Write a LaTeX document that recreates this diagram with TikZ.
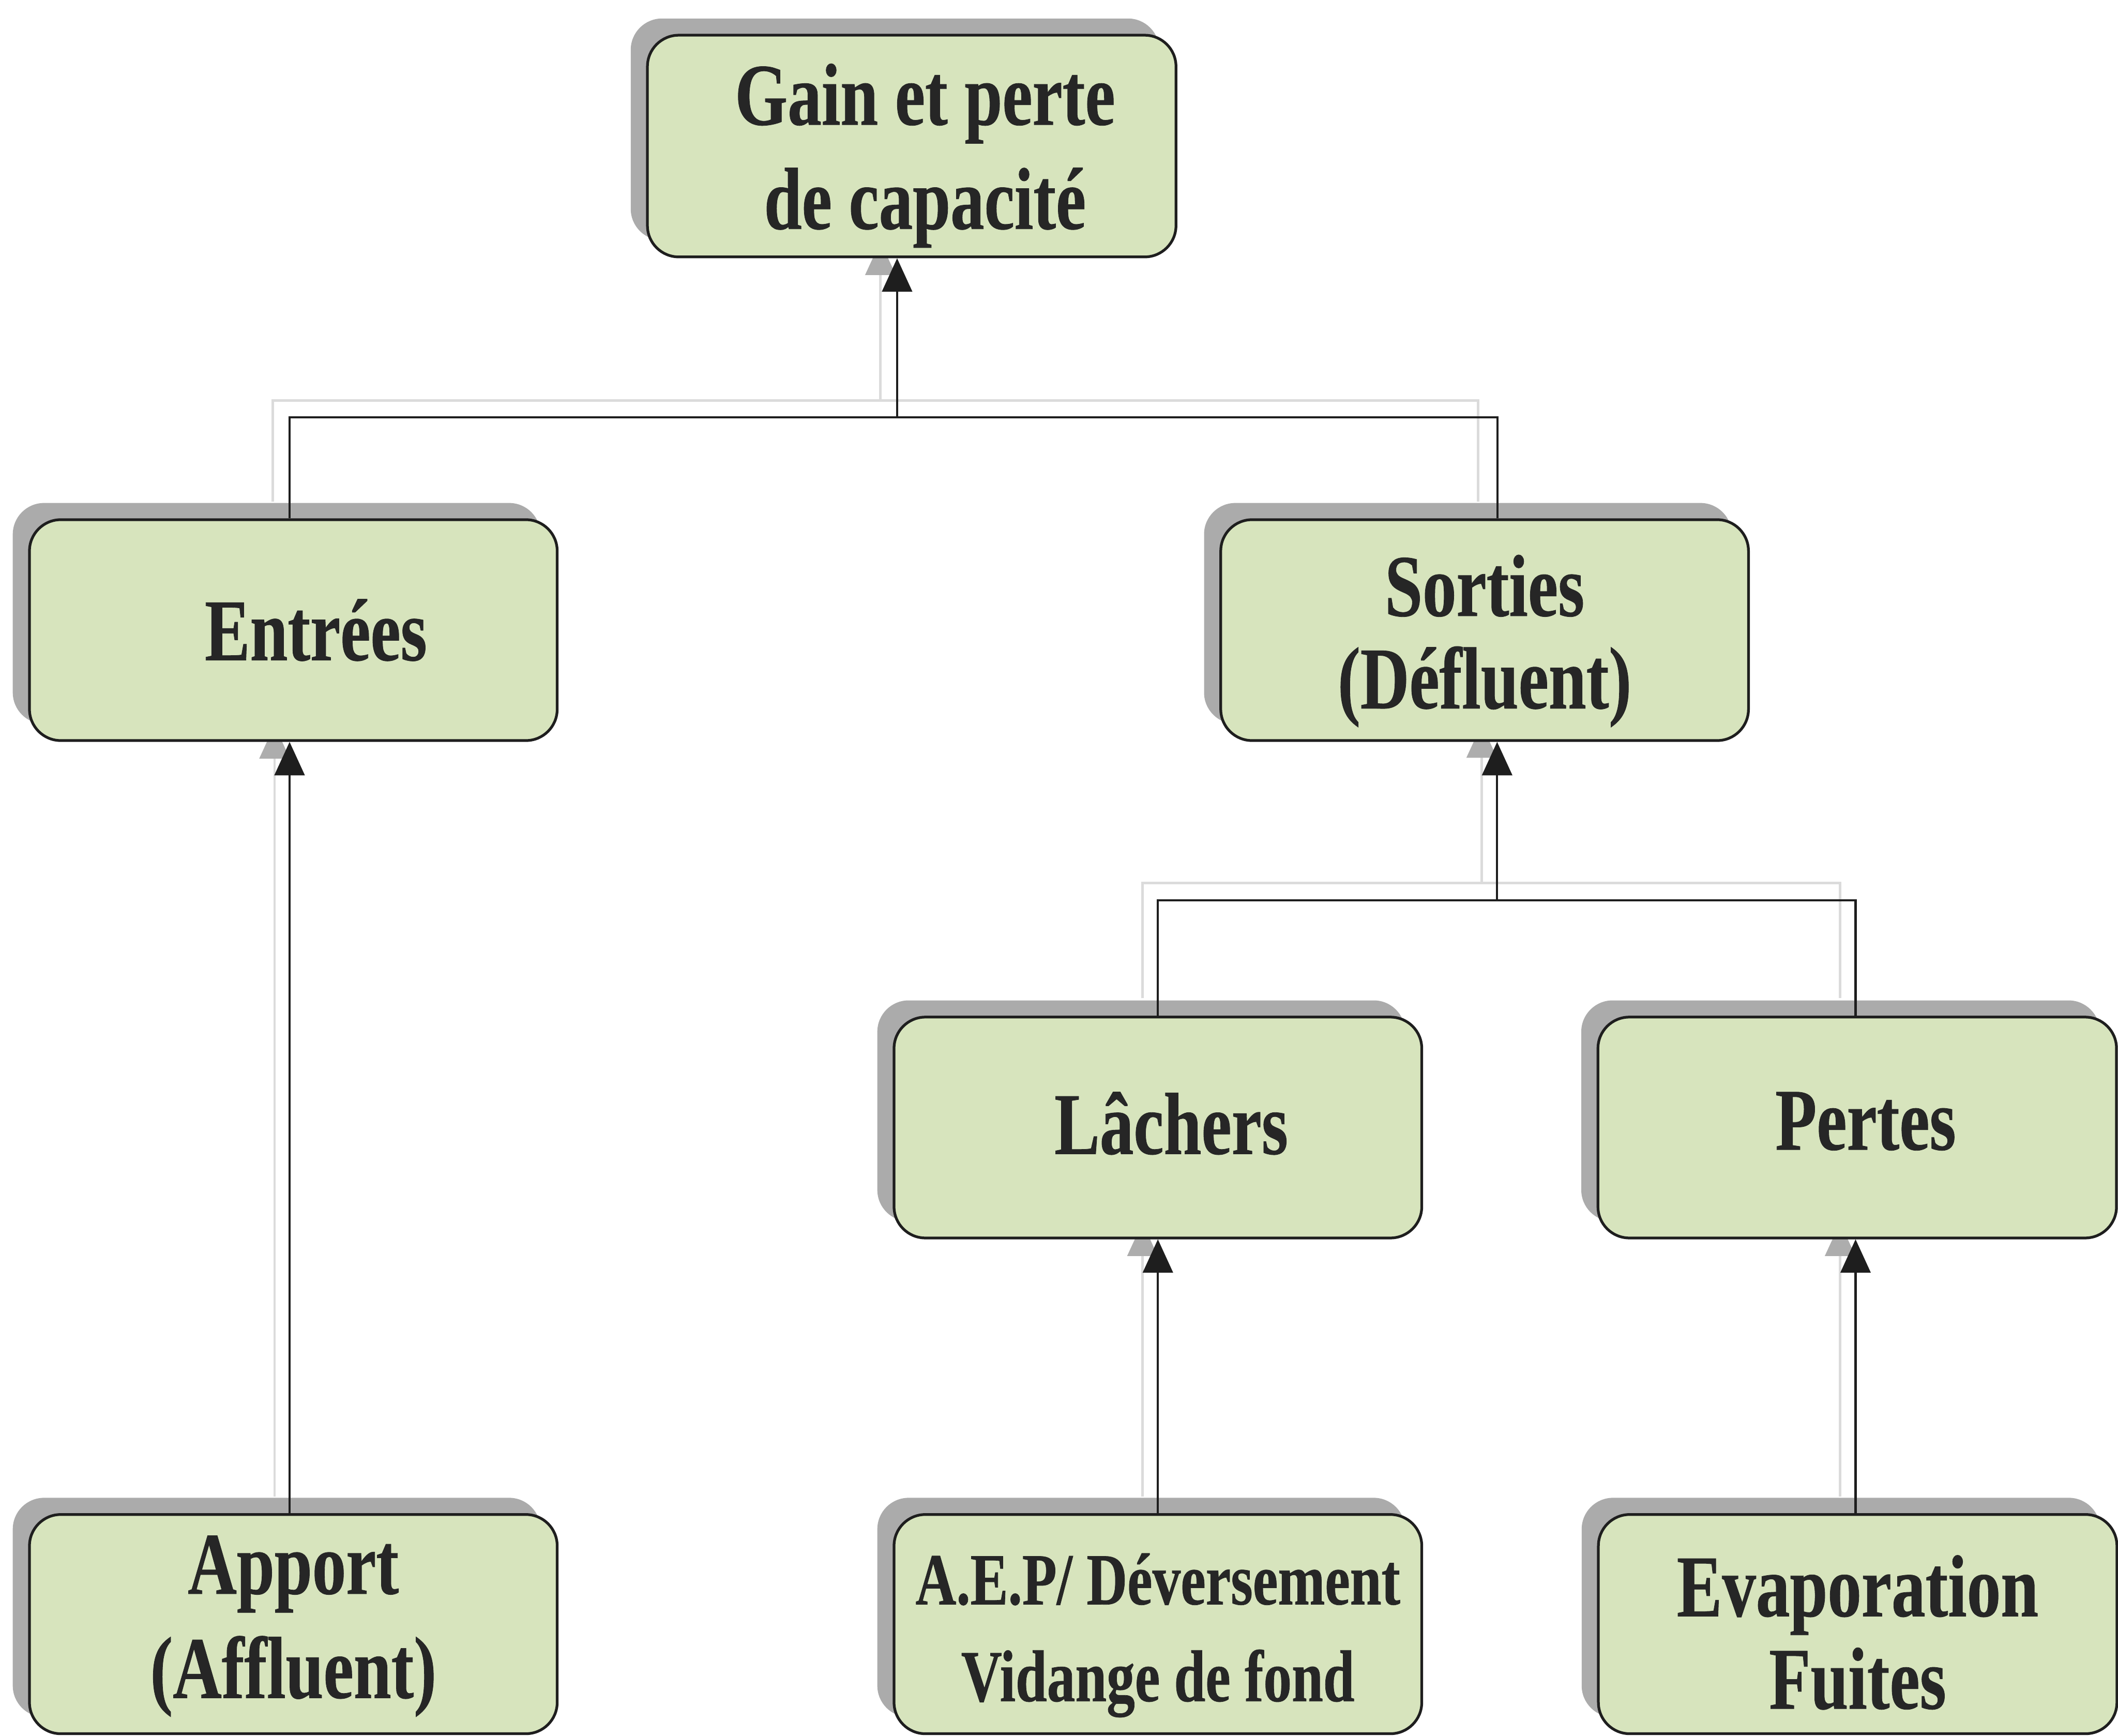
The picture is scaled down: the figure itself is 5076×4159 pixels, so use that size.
\documentclass[tikz,border=0pt]{standalone}
\usepackage{fontspec}
\newfontfamily\boxfont{Liberation Serif}[FakeStretch=0.77, FakeBold=0.5]
\usetikzlibrary{arrows.meta,shadows,backgrounds,calc}
\definecolor{boxfill}{HTML}{D7E4BD}
\definecolor{shadowgray}{HTML}{ABABAB}
\definecolor{ink}{HTML}{262626}
\definecolor{edge}{HTML}{1E1E1E}
% lower (or raise) a line without changing its box
\newcommand{\mvline}[2]{\raisebox{#1}[\height][\depth]{#2}}
\tikzset{
  box/.style={draw=edge, line width=0.065cm, fill=boxfill, rounded corners=0.75cm,
    minimum width=12.64cm, minimum height=5.29cm, inner sep=0pt, align=center, text=ink,
    font=\boxfont\bfseries\fontsize{60pt}{71pt}\selectfont,
    general shadow={fill=shadowgray, shadow xshift=-0.4cm, shadow yshift=0.4cm}},
  tight/.style={font=\boxfont\bfseries\fontsize{60pt}{63pt}\selectfont},
  small/.style={font=\boxfont\bfseries\fontsize{50pt}{66pt}\selectfont},
  narrow/.style={minimum width=12.42cm},
  low/.style={minimum height=5.25cm},
  conn/.style={draw=edge, line width=0.05cm, line join=miter},
  arr/.style={conn, -{Triangle[width=0.72cm,length=0.8cm]}},
  ghost/.style={draw=black!14, line width=0.06cm, line join=miter},
  ghostarr/.style={ghost, -{Triangle[width=0.72cm,length=0.8cm,color=black!32]}},
}
\begin{document}
\begin{tikzpicture}[x=0.01cm, y=-0.01cm]
\useasboundingbox (0,0) rectangle (5076,4159);

% boxes
\node[box, minimum width=12.66cm, minimum height=5.31cm] (Top) at (2185,350)
  {\hspace*{0.64cm}\mvline{-0.23cm}{Gain et perte}\\\hspace*{0.64cm}\mvline{-0.23cm}{de capacité}};
\node[box] (Ent) at (703,1510) {\hspace*{1.08cm}Entrées};
\node[box, tight] (Sor) at (3558,1510) {\mvline{-0.26cm}{Sorties}\\\mvline{-0.26cm}{(Défluent)}};
\node[box] (Lac) at (2775,2702) {\hspace*{0.64cm}\mvline{0.1cm}{Lâchers}};
\node[box, narrow] (Per) at (4451,2702) {\hspace*{0.4cm}\mvline{0.15cm}{Pertes}};
\node[box, low] (App) at (703,3892) {\mvline{-0.05cm}{Apport}\\\mvline{-0.05cm}{(Affluent)}};
\node[box, low, small] (AEP) at (2775,3892) {\mvline{-0.27cm}{A.E.P/ Déversement}\\\mvline{-0.27cm}{Vidange de fond}};
\node[box, low, narrow, tight] (Eva) at (4452,3892) {\mvline{-0.2cm}{Evaporation}\\\mvline{-0.2cm}{Fuites}};

% junction points
\coordinate (j1) at (2150,1000);
\coordinate (j1L) at (694,1000);
\coordinate (j1R) at (3589,1000);
\coordinate (j2) at (3588,2158);
\coordinate (j2L) at (2775,2158);
\coordinate (j2R) at (4447,2158);

% ghost (shadow) connectors
\begin{scope}[on background layer]
  \fill[white] (0,0) rectangle (5076,4159);
  \draw[ghost] ($(Ent.north -| j1L)+(-40,-40)$) -- ($(j1L)+(-40,-40)$) -- ($(j1R)+(-47,-40)$) -- ($(Sor.north -| j1R)+(-47,-40)$);
  \draw[ghostarr] ($(j1)+(-40,-40)$) -- ($(Top.south -| j1)+(-40,-40)$);
  \draw[ghostarr] ($(App.north -| j1L)+(-36,-40)$) -- ($(Ent.south -| j1L)+(-36,-40)$);
  \draw[ghost] ($(Lac.north -| j2L)+(-37,-42)$) -- ($(j2L)+(-37,-42)$) -- ($(j2R)+(-37,-42)$) -- ($(Per.north -| j2R)+(-37,-42)$);
  \draw[ghostarr] ($(j2)+(-37,-42)$) -- ($(Sor.south -| j2)+(-37,-42)$);
  \draw[ghostarr] ($(AEP.north -| j2L)+(-37,-40)$) -- ($(Lac.south -| j2L)+(-37,-40)$);
  \draw[ghostarr] ($(Eva.north -| j2R)+(-37,-40)$) -- ($(Per.south -| j2R)+(-37,-40)$);
\end{scope}

% connectors
\draw[conn] (Ent.north -| j1L) -- (j1L) -- (j1R) -- (Sor.north -| j1R);
\draw[arr] (j1) -- (Top.south -| j1);
\draw[arr] (App.north -| j1L) -- (Ent.south -| j1L);
\draw[conn] (Lac.north -| j2L) -- (j2L) -- (j2R) -- (Per.north -| j2R);
\draw[arr] (j2) -- (Sor.south -| j2);
\draw[arr] (AEP.north -| j2L) -- (Lac.south -| j2L);
\draw[arr] (Eva.north -| j2R) -- (Per.south -| j2R);
\end{tikzpicture}
\end{document}
